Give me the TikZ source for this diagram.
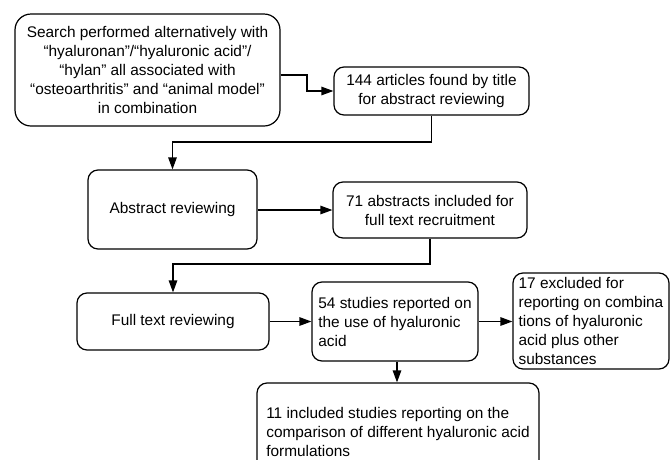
\documentclass[tikz,border=0pt]{standalone}
\usepackage{fontspec}
\setmainfont{Liberation Sans}
\usetikzlibrary{arrows.meta,calc}
\tikzset{
  box/.style={draw=black, line width=1.2pt, rounded corners=10pt, inner sep=0pt, font=\fontsize{15.4}{19}\selectfont},
  cbox/.style={box, align=center},
  lbox/.style={box, align=left},
  conn/.style={line width=1.2pt, -{Triangle[length=12pt,width=8.5pt]}}
}
\begin{document}
\begin{tikzpicture}[x=1pt,y=-1pt]
\useasboundingbox (0,0) rectangle (670,459);
\node[cbox, rounded corners=16pt, minimum width=265pt, minimum height=112pt] (B1) at (147.5,70)
  {Search performed alternatively with\\“hyaluronan”/“hyaluronic acid”/\\“hylan” all associated with\\“osteoarthritis” and “animal model”\\in combination};
\node[cbox, minimum width=195pt, minimum height=48pt] (B2) at (431.5,91)
  {144 articles found by title\\for abstract reviewing};
\node[cbox, minimum width=169pt, minimum height=79pt] (B3) at (172.5,209.5)
  {Abstract reviewing};
\node[cbox, minimum width=194pt, minimum height=56pt] (B4) at (430,210)
  {71 abstracts included for\\full text recruitment};
\node[cbox, minimum width=192pt, minimum height=57pt] (B5) at (173,321.5)
  {Full text reviewing};
\node[lbox, minimum width=166pt, minimum height=79pt] (B6) at (395,321.5)
  {54 studies reported on\\the use of hyaluronic\\acid};
\node[lbox, minimum width=156pt, minimum height=96pt] (B7) at (591,321)
  {17 excluded for\\reporting on combina\\tions of hyaluronic\\acid plus other\\substances};
\node[lbox, minimum width=282pt, minimum height=98pt] (B8) at (398,432)
  {11 included studies reporting on the\\comparison of different hyaluronic acid\\formulations};
% connectors
\coordinate (s1) at (B1.east |- 0,75);
\coordinate (k1) at (307,75);
\draw[conn] (s1) -- (k1) |- (B2.west);
\coordinate (e1) at (B3.north |- 0,142);
\draw[conn] (B2.south) |- (e1) -- (B3.north);
\draw[conn] (B3.east |- B4.west) -- (B4.west);
\coordinate (e2) at (B5.north |- 0,264);
\draw[conn] (B4.south) |- (e2) -- (B5.north);
\draw[conn] (B5.east) -- (B6.west);
\draw[conn] (B6.east) -- (B7.west |- B6.east);
\coordinate (d1) at (397,361);
\draw[conn] (B6.south -| d1) -- (d1 |- B8.north);
\end{tikzpicture}
\end{document}
